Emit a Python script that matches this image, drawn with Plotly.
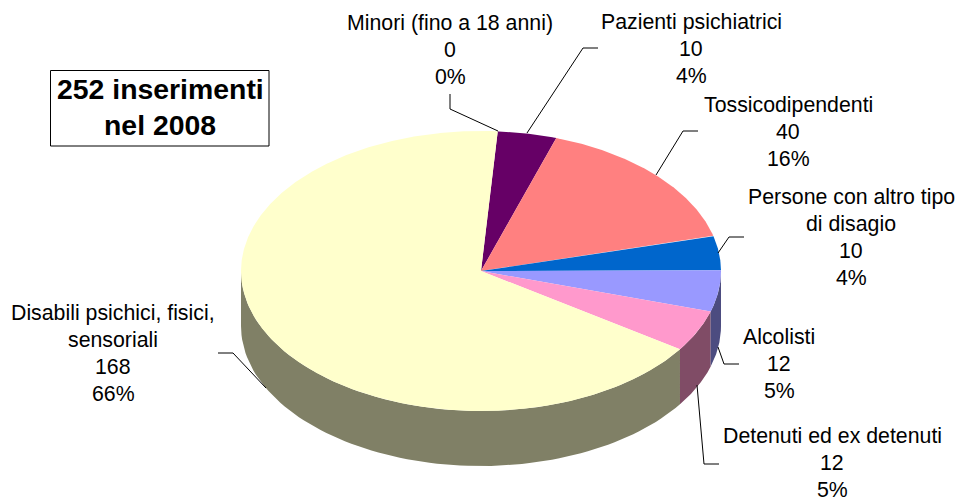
import numpy as np
import plotly.graph_objects as go

categories = ["Minori (fino a 18 anni)", "Pazienti psichiatrici", "Tossicodipendenti",
              "Persone con altro tipo<br>di disagio", "Alcolisti",
              "Detenuti ed ex detenuti", "Disabili psichici, fisici,<br>sensoriali"]
values = [0, 10, 40, 10, 12, 12, 168]
percent_labels = ["0%", "4%", "16%", "4%", "5%", "5%", "66%"]
top_colors = ["#99CCFF", "#660066", "#FF8080", "#0066CC", "#9999FF", "#FF99CC", "#FFFFCC"]
side_colors = ["#4C6680", "#330033", "#804040", "#003366", "#4C4C80", "#804C66", "#808066"]

CX, CY, RX, RY, DEPTH = 481, 271, 240, 140, 55
START_DEG = 4.0

label_centers = [450, 691, 788, 851, 779, 832, 113]
label_first_line_y = [23, 22, 105, 197, 337, 436, 313]
line_step = 27
leaders = [
    [(450, 94), (450, 109), (498, 131)],
    [(598, 48), (583, 48), (527, 133)],
    [(698, 131), (683, 131), (656, 175)],
    [(744, 237), (729, 237), (718, 253)],
    [(739, 364), (724, 364), (718, 347)],
    [(719, 464), (704, 464), (697, 385)],
    [(218, 353), (233, 353), (266, 388)],
]


def px(deg):
    return CX + RX * np.sin(np.radians(deg))


def py(deg):
    return CY - RY * np.cos(np.radians(deg))


fig = go.Figure()
total = sum(values)
edges = START_DEG + np.cumsum([0] + values) / total * 360

# side wall, visible only along the front half (90..270 deg clockwise from the top)
order = sorted(range(len(values)), key=lambda i: -edges[i])
for i in order:
    a, b = max(edges[i], 90), min(edges[i + 1], 270)
    if values[i] == 0 or b <= a:
        continue
    t = np.linspace(a, b, 80)
    xs = np.concatenate([px(t), px(t[::-1])])
    ys = np.concatenate([py(t), py(t[::-1]) + DEPTH])
    fig.add_trace(go.Scatter(x=xs, y=ys, mode="lines", fill="toself", fillcolor=side_colors[i],
                             line=dict(width=0), hoverinfo="skip", showlegend=False))

# top face
for i, (name, v) in enumerate(zip(categories, values)):
    if v == 0:
        continue
    t = np.linspace(edges[i], edges[i + 1], max(int(v * 6), 12))
    xs = np.concatenate([[CX], px(t), [CX]])
    ys = np.concatenate([[CY], py(t), [CY]])
    fig.add_trace(go.Scatter(x=xs, y=ys, mode="lines", fill="toself", fillcolor=top_colors[i],
                             line=dict(width=0), name=name.replace("<br>", " "),
                             hoverinfo="name", showlegend=False))

shapes = []
for pts in leaders:
    path = "M " + " L ".join(f"{x},{y}" for x, y in pts)
    shapes.append(dict(type="path", path=path, line=dict(color="#000000", width=1)))
shapes.append(dict(type="rect", x0=50.5, x1=269, y0=70.5, y1=146,
                   line=dict(color="#000000", width=1), fillcolor="#FFFFFF"))

annotations = []
for name, v, pct, cx, y0 in zip(categories, values, percent_labels, label_centers, label_first_line_y):
    lines = name.split("<br>") + [str(v), pct]
    for k, line in enumerate(lines):
        annotations.append(dict(x=cx, y=y0 + k * line_step, text=line, showarrow=False,
                                xanchor="center", yanchor="middle",
                                font=dict(family="Liberation Sans", size=21.3, color="#000000")))
for text, y in [("252 inserimenti", 89), ("nel 2008", 125)]:
    annotations.append(dict(x=160, y=y, text=f"<b>{text}</b>", showarrow=False,
                            xanchor="center", yanchor="middle",
                            font=dict(family="Liberation Sans", size=28.4, color="#000000")))

fig.update_layout(
    width=959, height=500, margin=dict(l=0, r=0, t=0, b=0),
    paper_bgcolor="#FFFFFF", plot_bgcolor="#FFFFFF",
    xaxis=dict(range=[0, 959], visible=False, fixedrange=True),
    yaxis=dict(range=[500, 0], visible=False, fixedrange=True),
    shapes=shapes, annotations=annotations, showlegend=False,
)
fig.write_html("out.html", config=dict(displayModeBar=False),
               post_script="document.body.style.margin='0';document.body.style.overflow='hidden';")
